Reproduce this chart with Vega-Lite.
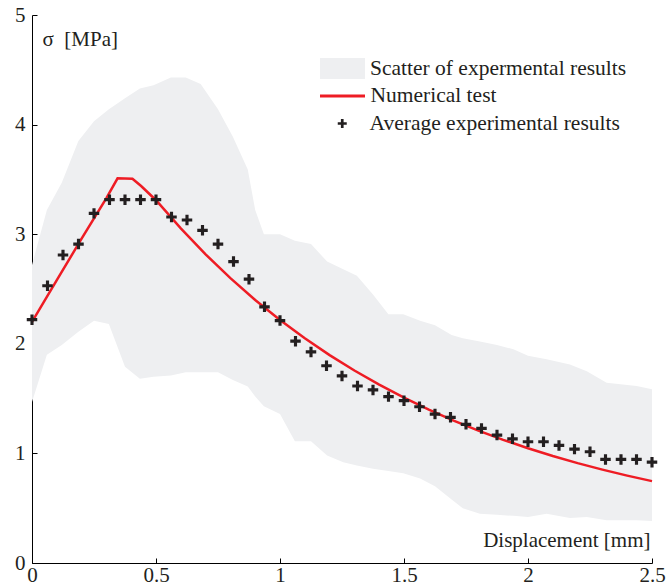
{
  "$schema": "https://vega.github.io/schema/vega-lite/v6.json",
  "width": 620,
  "height": 548,
  "autosize": {"type": "none"},
  "padding": {"left": 32, "top": 15, "right": 14, "bottom": 24},
  "background": "white",
  "config": {
    "view": {"stroke": null},
    "font": "Liberation Serif",
    "axis": {
      "grid": false,
      "domainColor": "#000000",
      "domainWidth": 1,
      "tickColor": "#000000",
      "tickWidth": 1,
      "tickSize": -5,
      "labelFont": "Liberation Serif",
      "labelFontSize": 21,
      "labelColor": "#231f20",
      "labelFlush": false,
      "labelOverlap": false,
      "titleFont": "Liberation Serif",
      "titleFontSize": 21,
      "titleFontWeight": "normal",
      "titleColor": "#231f20"
    },
    "legend": {
      "title": null,
      "orient": "none",
      "padding": 0,
      "clipHeight": 21,
      "labelFont": "Liberation Serif",
      "labelFontSize": 21.5,
      "labelColor": "#231f20",
      "labelLimit": 400
    }
  },
  "datasets": {
    "band": [
      {"x": 0, "y": 1.47, "y2": 2.72},
      {"x": 0.06, "y": 1.9, "y2": 3.22},
      {"x": 0.12, "y": 1.99, "y2": 3.47},
      {"x": 0.187, "y": 2.11, "y2": 3.85},
      {"x": 0.25, "y": 2.21, "y2": 4.03},
      {"x": 0.31, "y": 2.18, "y2": 4.14},
      {"x": 0.375, "y": 1.79, "y2": 4.24},
      {"x": 0.435, "y": 1.68, "y2": 4.33},
      {"x": 0.49, "y": 1.7, "y2": 4.36},
      {"x": 0.56, "y": 1.71, "y2": 4.43},
      {"x": 0.62, "y": 1.74, "y2": 4.43},
      {"x": 0.68, "y": 1.74, "y2": 4.37},
      {"x": 0.75, "y": 1.74, "y2": 4.14},
      {"x": 0.81, "y": 1.67, "y2": 3.89},
      {"x": 0.87, "y": 1.61, "y2": 3.59},
      {"x": 0.9, "y": 1.52, "y2": 3.22},
      {"x": 0.935, "y": 1.43, "y2": 3.0},
      {"x": 1.0, "y": 1.36, "y2": 3.0},
      {"x": 1.06, "y": 1.11, "y2": 2.94},
      {"x": 1.125, "y": 1.11, "y2": 2.91},
      {"x": 1.19, "y": 0.98, "y2": 2.75},
      {"x": 1.255, "y": 0.92, "y2": 2.68},
      {"x": 1.31, "y": 0.89, "y2": 2.62},
      {"x": 1.375, "y": 0.86, "y2": 2.45},
      {"x": 1.437, "y": 0.84, "y2": 2.27},
      {"x": 1.497, "y": 0.82, "y2": 2.27},
      {"x": 1.565, "y": 0.77, "y2": 2.21},
      {"x": 1.625, "y": 0.7, "y2": 2.17},
      {"x": 1.692, "y": 0.58, "y2": 2.08},
      {"x": 1.737, "y": 0.5, "y2": 2.05},
      {"x": 1.806, "y": 0.45, "y2": 2.02},
      {"x": 1.875, "y": 0.44, "y2": 1.99},
      {"x": 1.941, "y": 0.43, "y2": 1.95},
      {"x": 2.0, "y": 0.42, "y2": 1.89},
      {"x": 2.075, "y": 0.45, "y2": 1.86},
      {"x": 2.169, "y": 0.41, "y2": 1.81},
      {"x": 2.237, "y": 0.42, "y2": 1.75},
      {"x": 2.317, "y": 0.39, "y2": 1.645},
      {"x": 2.438, "y": 0.39, "y2": 1.615},
      {"x": 2.5, "y": 0.384, "y2": 1.585}
    ],
    "numerical": [
      {"x": 0, "y": 2.2},
      {"x": 0.1, "y": 2.58},
      {"x": 0.2, "y": 2.96},
      {"x": 0.3, "y": 3.33},
      {"x": 0.345, "y": 3.51},
      {"x": 0.405, "y": 3.505},
      {"x": 0.44, "y": 3.44},
      {"x": 0.5, "y": 3.31},
      {"x": 0.6, "y": 3.053},
      {"x": 0.7, "y": 2.816},
      {"x": 0.8, "y": 2.599},
      {"x": 0.9, "y": 2.4},
      {"x": 1.0, "y": 2.218},
      {"x": 1.1, "y": 2.05},
      {"x": 1.2, "y": 1.897},
      {"x": 1.3, "y": 1.756},
      {"x": 1.4, "y": 1.627},
      {"x": 1.5, "y": 1.508},
      {"x": 1.6, "y": 1.399},
      {"x": 1.7, "y": 1.299},
      {"x": 1.8, "y": 1.208},
      {"x": 1.9, "y": 1.124},
      {"x": 2.0, "y": 1.047},
      {"x": 2.1, "y": 0.976},
      {"x": 2.2, "y": 0.911},
      {"x": 2.3, "y": 0.852},
      {"x": 2.4, "y": 0.797},
      {"x": 2.5, "y": 0.747}
    ],
    "average": [
      {"x": 0, "y": 2.22},
      {"x": 0.0625, "y": 2.53},
      {"x": 0.125, "y": 2.81},
      {"x": 0.1875, "y": 2.91},
      {"x": 0.25, "y": 3.19},
      {"x": 0.3125, "y": 3.315},
      {"x": 0.375, "y": 3.315},
      {"x": 0.4375, "y": 3.315},
      {"x": 0.5, "y": 3.315},
      {"x": 0.5625, "y": 3.157},
      {"x": 0.625, "y": 3.13},
      {"x": 0.6875, "y": 3.035},
      {"x": 0.75, "y": 2.91},
      {"x": 0.8125, "y": 2.75},
      {"x": 0.875, "y": 2.59},
      {"x": 0.9375, "y": 2.337},
      {"x": 1.0, "y": 2.212},
      {"x": 1.0625, "y": 2.024},
      {"x": 1.125, "y": 1.926},
      {"x": 1.1875, "y": 1.8},
      {"x": 1.25, "y": 1.707},
      {"x": 1.3125, "y": 1.615},
      {"x": 1.375, "y": 1.579},
      {"x": 1.4375, "y": 1.518},
      {"x": 1.5, "y": 1.481},
      {"x": 1.5625, "y": 1.426},
      {"x": 1.625, "y": 1.359},
      {"x": 1.6875, "y": 1.329},
      {"x": 1.75, "y": 1.265},
      {"x": 1.8125, "y": 1.228},
      {"x": 1.875, "y": 1.167},
      {"x": 1.9375, "y": 1.133},
      {"x": 2.0, "y": 1.106},
      {"x": 2.0625, "y": 1.106},
      {"x": 2.125, "y": 1.073},
      {"x": 2.1875, "y": 1.039},
      {"x": 2.25, "y": 1.015},
      {"x": 2.3125, "y": 0.945},
      {"x": 2.375, "y": 0.945},
      {"x": 2.4375, "y": 0.945},
      {"x": 2.5, "y": 0.92}
    ]
  },
  "encoding": {
    "x": {
      "field": "x",
      "type": "quantitative",
      "scale": {"domain": [0, 2.5], "nice": false, "zero": false},
      "axis": {
        "title": "Displacement [mm]",
        "values": [0, 0.5, 1, 1.5, 2, 2.5],
        "format": "~g",
        "labelPadding": 6,
        "titleAlign": "right",
        "titleBaseline": "alphabetic",
        "titleX": 618,
        "titleY": -17
      }
    },
    "y": {
      "field": "y",
      "type": "quantitative",
      "scale": {"domain": [0, 5], "nice": false},
      "axis": {
        "title": "σ\u00a0\u00a0[MPa]",
        "values": [0, 1, 2, 3, 4, 5],
        "format": "~g",
        "labelPadding": 12,
        "titleAngle": 0,
        "titleAlign": "left",
        "titleBaseline": "alphabetic",
        "titleX": 10,
        "titleY": 30
      }
    }
  },
  "layer": [
    {
      "data": {"name": "band"},
      "mark": {"type": "area", "opacity": 1},
      "encoding": {
        "y2": {"field": "y2"},
        "fill": {
          "datum": "Scatter of expermental results",
          "type": "nominal",
          "scale": {"range": ["#eeeff1"]},
          "legend": {
            "legendX": 288,
            "legendY": 43,
            "symbolType": "M-1,-0.47H1V0.47H-1Z",
            "symbolSize": 2025,
            "symbolFillColor": "#eeeff1",
            "symbolStrokeWidth": 0,
            "symbolOpacity": 1,
            "labelOffset": 5
          }
        }
      }
    },
    {
      "data": {"name": "numerical"},
      "mark": {"type": "line", "strokeWidth": 2.5},
      "encoding": {
        "stroke": {
          "datum": "Numerical test",
          "type": "nominal",
          "scale": {"range": ["#ee1c24"]},
          "legend": {
            "legendX": 286.5,
            "legendY": 70.5,
            "symbolType": "stroke",
            "symbolSize": 2025,
            "symbolStrokeWidth": 3,
            "labelOffset": 4
          }
        }
      }
    },
    {
      "data": {"name": "average"},
      "mark": {
        "type": "point",
        "filled": true,
        "size": 110,
        "opacity": 1,
        "color": "#231f20"
      },
      "encoding": {
        "shape": {
          "datum": "Average experimental results",
          "type": "nominal",
          "scale": {"range": ["M-1,-0.3H-0.3V-1H0.3V-0.3H1V0.3H0.3V1H-0.3V0.3H-1Z"]},
          "legend": {
            "legendX": 288,
            "legendY": 98,
            "symbolSize": 81,
            "symbolFillColor": "#231f20",
            "symbolStrokeWidth": 0,
            "symbolOffset": 11.5,
            "labelOffset": 16.5
          }
        }
      }
    }
  ]
}
